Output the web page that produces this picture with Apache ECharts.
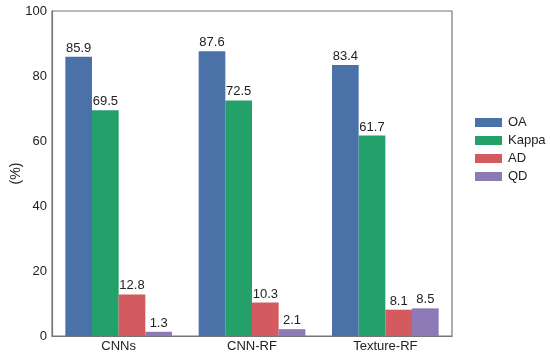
<!DOCTYPE html>
<html><head><meta charset="utf-8">
<script src="https://cdn.jsdelivr.net/npm/echarts@6/dist/echarts.min.js"></script>
<style>html,body{margin:0;padding:0;background:#fff}#c{width:550px;height:357px}</style>
</head><body><div id="c"></div>
<script>
const categories = ['CNNs', 'CNN-RF', 'Texture-RF'];
const seriesNames = ['OA', 'Kappa', 'AD', 'QD'];
const OA = [85.9, 87.6, 83.4];
const Kappa = [69.5, 72.5, 61.7];
const AD = [12.8, 10.3, 8.1];
const QD = [1.3, 2.1, 8.5];
const yTicks = [0, 20, 40, 60, 80, 100];
const colors = ['#4A72A8', '#24A06B', '#D35A5E', '#8C79B5'];
const values = [OA, Kappa, AD, QD];
const font = 'Liberation Sans, Arial, sans-serif';
const chart = echarts.init(document.getElementById('c'));
chart.setOption({
  animation: false,
  grid: {left: 52, top: 11, right: 98, bottom: 21, containLabel: false, outerBoundsMode: 'none', show: true, borderColor: '#777', borderWidth: 1.2},
  legend: {
    orient: 'vertical', left: 470, top: 111, itemWidth: 27, itemHeight: 9, itemGap: 5,
    icon: 'rect', textStyle: {fontFamily: font, fontSize: 13, color: '#222', padding: [0,0,0,1]},
    data: seriesNames
  },
  xAxis: {
    type: 'category', data: categories,
    axisLine: {show: true, lineStyle: {color: '#777', width: 1.2}},
    axisTick: {show: false},
    axisLabel: {fontFamily: font, fontSize: 13, color: '#222', margin: 4}
  },
  yAxis: {
    type: 'value', min: yTicks[0], max: yTicks[yTicks.length-1], interval: 20,
    name: '(%)', nameLocation: 'middle', nameGap: 29, nameMoveOverlap: false,
    nameTextStyle: {fontFamily: font, fontSize: 14, color: '#222'},
    axisLine: {show: true, lineStyle: {color: '#777', width: 1.2}},
    axisTick: {show: false},
    splitLine: {show: false},
    axisLabel: {fontFamily: font, fontSize: 13, color: '#222', margin: 5}
  },
  series: seriesNames.map((n, i) => ({
    name: n, type: 'bar', data: values[i], barGap: '0%', barCategoryGap: '20%',
    itemStyle: {color: colors[i]},
    label: {show: true, position: 'top', distance: 2, fontFamily: font, fontSize: 13, color: '#222'}
  }))
});
</script></body></html>
